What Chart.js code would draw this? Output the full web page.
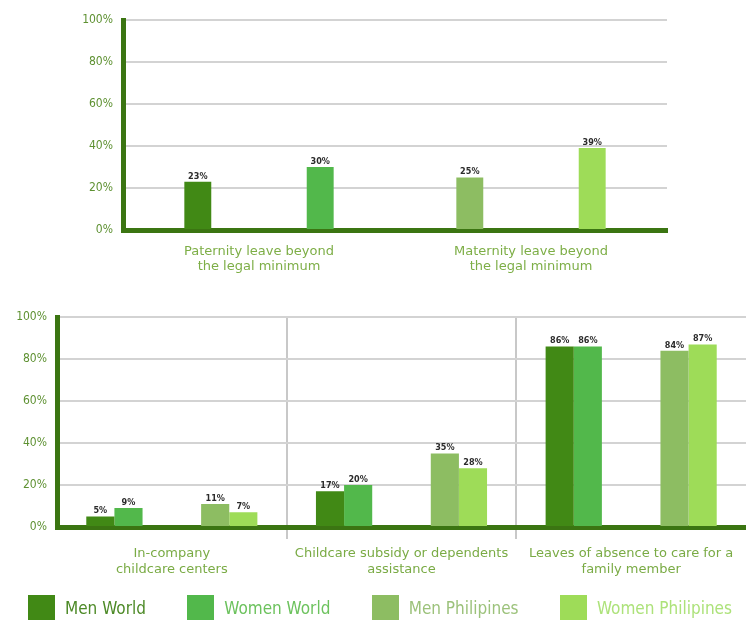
<!DOCTYPE html>
<html>
<head>
<meta charset="utf-8">
<script src="https://cdn.jsdelivr.net/npm/chart.js@4/dist/chart.umd.min.js"></script>
<style>
  body { margin: 0; background: #fff; overflow: hidden; width: 746px; height: 621px; position: relative; }
  canvas { position: absolute; left: 0; }
  #top { top: 0; }
  #bottom { top: 300px; }
  #legend {
    position: absolute; top: 595px; left: 28px; width: 704px; height: 25px;
    display: flex; justify-content: space-between; align-items: center;
    font: 17px "DejaVu Sans Condensed", "DejaVu Sans", sans-serif;
  }
  #legend .item { display: flex; align-items: center; white-space: nowrap; }
  #legend .box { width: 27px; height: 25px; margin-right: 10px; }
</style>
</head>
<body>
<canvas id="top" width="746" height="295"></canvas>
<canvas id="bottom" width="746" height="321"></canvas>
<div id="legend"></div>
<script>
const seriesNames = ["Men World", "Women World", "Men Philipines", "Women Philipines"];
const seriesColors = ["#418915", "#52b84b", "#8dbd62", "#9edc58"];
const legendColors = ["#4d8a27", "#6cc25d", "#9cc27b", "#ade27a"];

// top chart: each category only holds two of the series
const topCategories = [["Paternity leave beyond", "the legal minimum"], ["Maternity leave beyond", "the legal minimum"]];
const topMenWorld = [23, null];
const topWomenWorld = [30, null];
const topMenPhil = [null, 25];
const topWomenPhil = [null, 39];

// bottom chart
const bottomCategories = [
  ["In-company", "childcare centers"],
  ["Childcare subsidy or dependents", "assistance"],
  ["Leaves of absence to care for a", "family member"]
];
const regions = ["World", "Philippines"];
const menWorld = [5, 17, 86];
const womenWorld = [9, 20, 86];
const menPhil = [11, 35, 84];
const womenPhil = [7, 28, 87];

const font = '"DejaVu Sans Condensed", "DejaVu Sans", sans-serif';
const labelFont = '"DejaVu Sans", sans-serif';
const axisGreen = "#3b7512";
const gridGrey = "#d3d3d3";

// each category splits into a World slot and a Philippines slot
const subLabels = [];
bottomCategories.forEach((c) => regions.forEach((r) => subLabels.push(c.join(" ") + " / " + r)));
function toSlots(values, regionIndex) {
  const out = [];
  values.forEach((v) => regions.forEach((r, i) => out.push(i === regionIndex ? v : null)));
  return out;
}

const valueLabels = {
  id: "valueLabels",
  afterDatasetsDraw(chart) {
    const ctx = chart.ctx;
    ctx.save();
    ctx.font = "bold 9px " + font;
    ctx.fillStyle = "#2b2b2b";
    ctx.textAlign = "center";
    ctx.textBaseline = "bottom";
    chart.data.datasets.forEach((ds, i) => {
      chart.getDatasetMeta(i).data.forEach((bar, j) => {
        const v = ds.data[j];
        if (v === null) return;
        ctx.fillText(v + "%", bar.x, bar.y - 1);
      });
    });
    ctx.restore();
  }
};

function yAxis(width) {
  return {
    min: 0,
    max: 100,
    afterFit: (scale) => { scale.width = width; },
    ticks: { stepSize: 20, padding: 10, color: "#5e9132", font: { family: font, size: 12 }, callback: (v) => v + "%" },
    grid: { color: (c) => (c.tick && c.tick.value === 0 ? "rgba(0,0,0,0)" : gridGrey), lineWidth: 2, drawTicks: false },
    border: { color: axisGreen, width: 5 }
  };
}

new Chart(document.getElementById("top").getContext("2d"), {
  type: "bar",
  data: {
    labels: topCategories,
    datasets: [
      { label: seriesNames[0], data: topMenWorld, backgroundColor: seriesColors[0] },
      { label: seriesNames[1], data: topWomenWorld, backgroundColor: seriesColors[1] },
      { label: seriesNames[2], data: topMenPhil, backgroundColor: seriesColors[2] },
      { label: seriesNames[3], data: topWomenPhil, backgroundColor: seriesColors[3] }
    ]
  },
  options: {
    responsive: false,
    animation: false,
    datasets: { bar: { skipNull: true, categoryPercentage: 0.9, barPercentage: 0.22 } },
    layout: { padding: { left: 0, right: 79, top: 20, bottom: 0 } },
    plugins: { legend: { display: false }, tooltip: { enabled: false } },
    scales: {
      x: {
        afterFit: (scale) => { scale.height = 65; },
        grid: { display: false, drawTicks: false },
        border: { color: axisGreen, width: 5 },
        ticks: { padding: 14, color: "#7dae46", font: { family: labelFont, size: 13, lineHeight: 1.18 } }
      },
      y: yAxis(123)
    }
  },
  plugins: [valueLabels]
});

new Chart(document.getElementById("bottom").getContext("2d"), {
  type: "bar",
  data: {
    labels: subLabels,
    datasets: [
      { label: seriesNames[0], data: toSlots(menWorld, 0), backgroundColor: seriesColors[0] },
      { label: seriesNames[1], data: toSlots(womenWorld, 0), backgroundColor: seriesColors[1] },
      { label: seriesNames[2], data: toSlots(menPhil, 1), backgroundColor: seriesColors[2] },
      { label: seriesNames[3], data: toSlots(womenPhil, 1), backgroundColor: seriesColors[3] }
    ]
  },
  options: {
    responsive: false,
    animation: false,
    datasets: { bar: { skipNull: true, categoryPercentage: 0.49, barPercentage: 1 } },
    layout: { padding: { left: 0, right: 0, top: 17, bottom: 0 } },
    plugins: { legend: { display: false }, tooltip: { enabled: false } },
    scales: {
      x: { display: false },
      xc: {
        type: "category",
        labels: bottomCategories,
        position: "bottom",
        offset: true,
        afterFit: (scale) => { scale.height = 94; },
        grid: {
          offset: true,
          // only the lines between categories, not the outer edges
          color: (c) => (!c.tick || c.index === 0 ? "rgba(0,0,0,0)" : "#c8c8c8"),
          lineWidth: 2,
          tickLength: 12
        },
        border: { color: axisGreen, width: 5 },
        ticks: { padding: 7, color: "#7aab45", font: { family: labelFont, size: 13, lineHeight: 1.23 } }
      },
      y: yAxis(57)
    }
  },
  plugins: [valueLabels]
});

// legend below the second chart
const legend = document.getElementById("legend");
seriesNames.forEach((name, i) => {
  const item = document.createElement("div");
  item.className = "item";
  const box = document.createElement("span");
  box.className = "box";
  box.style.background = seriesColors[i];
  const text = document.createElement("span");
  text.textContent = name;
  text.style.color = legendColors[i];
  item.appendChild(box);
  item.appendChild(text);
  legend.appendChild(item);
});
</script>
</body>
</html>
